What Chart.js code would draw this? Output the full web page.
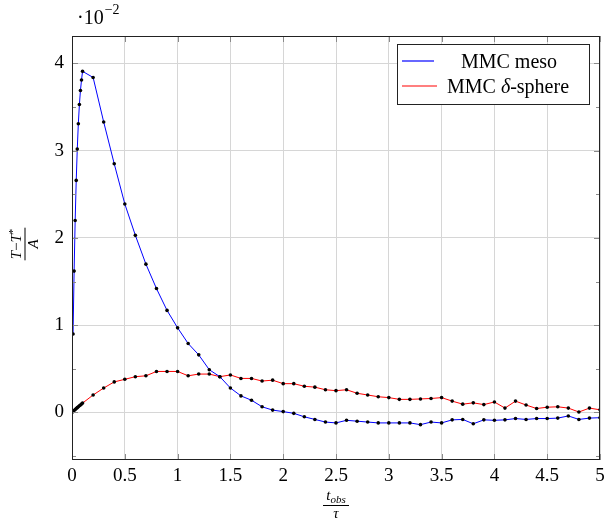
<!DOCTYPE html>
<html>
<head>
<meta charset="utf-8">
<script src="https://cdn.jsdelivr.net/npm/chart.js@4.4.1/dist/chart.umd.min.js"></script>
<style>
  html, body { margin: 0; padding: 0; background: #fff; }
  canvas { display: block; }
</style>
</head>
<body>
<canvas id="myChart" width="605" height="529"></canvas>
<script>
// data (y values in units of 10^-2)
const mesoX = [0.01, 0.02, 0.03, 0.04, 0.05, 0.06, 0.07, 0.08, 0.09, 0.1,
  0.2, 0.3, 0.4, 0.5, 0.6, 0.7, 0.8, 0.9, 1.0, 1.1, 1.2, 1.3, 1.4, 1.5, 1.6, 1.7, 1.8, 1.9, 2.0,
  2.1, 2.2, 2.3, 2.4, 2.5, 2.6, 2.7, 2.8, 2.9, 3.0, 3.1, 3.2, 3.3, 3.4, 3.5, 3.6, 3.7, 3.8, 3.9, 4.0,
  4.1, 4.2, 4.3, 4.4, 4.5, 4.6, 4.7, 4.8, 4.9, 5.0];
const mesoY = [0.90, 1.62, 2.20, 2.66, 3.02, 3.31, 3.53, 3.69, 3.81, 3.91,
  3.84, 3.33, 2.85, 2.39, 2.03, 1.70, 1.42, 1.17, 0.97, 0.79, 0.66, 0.49, 0.41, 0.28, 0.19, 0.14, 0.065, 0.027, 0.01,
  -0.01, -0.05, -0.08, -0.11, -0.12, -0.09, -0.10, -0.11, -0.12, -0.12, -0.12, -0.12, -0.14, -0.11, -0.12, -0.085, -0.08, -0.13, -0.085, -0.09,
  -0.085, -0.07, -0.08, -0.07, -0.07, -0.065, -0.04, -0.08, -0.065, -0.06];

const sphereX = [0, 0.01, 0.02, 0.03, 0.04, 0.05, 0.06, 0.07, 0.08, 0.09, 0.1,
  0.2, 0.3, 0.4, 0.5, 0.6, 0.7, 0.8, 0.9, 1.0, 1.1, 1.2, 1.3, 1.4, 1.5, 1.6, 1.7, 1.8, 1.9, 2.0,
  2.1, 2.2, 2.3, 2.4, 2.5, 2.6, 2.7, 2.8, 2.9, 3.0, 3.1, 3.2, 3.3, 3.4, 3.5, 3.6, 3.7, 3.8, 3.9, 4.0,
  4.1, 4.2, 4.3, 4.4, 4.5, 4.6, 4.7, 4.8, 4.9, 5.0];
const sphereY = [0, 0.012, 0.022, 0.033, 0.044, 0.055, 0.065, 0.076, 0.086, 0.096, 0.107,
  0.20, 0.28, 0.35, 0.38, 0.41, 0.42, 0.47, 0.47, 0.47, 0.42, 0.44, 0.44, 0.41, 0.43, 0.39, 0.39, 0.36, 0.37, 0.33,
  0.33, 0.30, 0.29, 0.26, 0.25, 0.26, 0.22, 0.20, 0.18, 0.17, 0.15, 0.15, 0.155, 0.16, 0.17, 0.13, 0.095, 0.11, 0.09, 0.12,
  0.05, 0.13, 0.085, 0.045, 0.06, 0.065, 0.05, 0.005, 0.05, 0.03];

const xTicks = [0, 0.5, 1, 1.5, 2, 2.5, 3, 3.5, 4, 4.5, 5];
const yTicks = [0, 1, 2, 3, 4];
const yMinorTicks = [-0.5, 0.5, 1.5, 2.5, 3.5];

const seriesColors = ['#0000ff', '#ff0000'];
const serif = '"Liberation Serif", "DejaVu Serif", serif';

function pts(xs, ys) {
  return xs.map((x, i) => ({ x: x, y: ys[i] }));
}

// draws pieces [text, fontPrefix, dy] one after another starting at x
function drawRun(ctx, pieces, x, y) {
  pieces.forEach(p => {
    ctx.font = p[1] + serif;
    ctx.fillText(p[0], x, y + (p[2] || 0));
    x += ctx.measureText(p[0]).width;
  });
  return x;
}
function runWidth(ctx, pieces) {
  let w = 0;
  pieces.forEach(p => { ctx.font = p[1] + serif; w += ctx.measureText(p[0]).width; });
  return w;
}

// axis box, inward tick marks, legend and the math labels
const decorations = {
  id: 'decorations',
  afterDatasetsDraw(chart) {
    const ctx = chart.ctx;
    const a = chart.chartArea;
    const sx = chart.scales.x, sy = chart.scales.y;
    ctx.save();

    // tick marks pointing inside
    ctx.strokeStyle = '#8a8a8a';
    ctx.lineWidth = 1;
    ctx.beginPath();
    xTicks.forEach(v => {
      const px = Math.round(sx.getPixelForValue(v)) + 0.5;
      ctx.moveTo(px, a.bottom); ctx.lineTo(px, a.bottom - 6);
      ctx.moveTo(px, a.top); ctx.lineTo(px, a.top + 6);
    });
    yTicks.forEach(v => {
      const py = Math.round(sy.getPixelForValue(v)) + 0.5;
      ctx.moveTo(a.left, py); ctx.lineTo(a.left + 6, py);
      ctx.moveTo(a.right, py); ctx.lineTo(a.right - 6, py);
    });
    yMinorTicks.forEach(v => {
      const py = Math.round(sy.getPixelForValue(v)) + 0.5;
      ctx.moveTo(a.left, py); ctx.lineTo(a.left + 4, py);
      ctx.moveTo(a.right, py); ctx.lineTo(a.right - 4, py);
    });
    ctx.stroke();

    // axis box
    ctx.strokeStyle = '#222';
    ctx.lineWidth = 1;
    ctx.strokeRect(Math.round(a.left) + 0.5, Math.round(a.top) + 0.5,
      Math.round(a.right - a.left) - 1, Math.round(a.bottom - a.top) - 1);

    // legend
    const lx = 397, ly = 44, lw = 192, lh = 60;
    ctx.fillStyle = '#fff';
    ctx.fillRect(lx, ly, lw, lh);
    ctx.strokeStyle = '#222';
    ctx.strokeRect(lx + 0.5, ly + 0.5, lw, lh);
    seriesColors.forEach((c, i) => {
      const yy = ly + 17 + i * 25;
      ctx.strokeStyle = c;
      ctx.lineWidth = 1.2;
      ctx.beginPath();
      ctx.moveTo(lx + 5, yy);
      ctx.lineTo(lx + (i === 0 ? 37 : 40), yy);
      ctx.stroke();
    });
    ctx.fillStyle = '#000';
    ctx.textBaseline = 'alphabetic';
    ctx.textAlign = 'left';
    const leg1 = [['MMC meso', '20px ']];
    drawRun(ctx, leg1, 509 - runWidth(ctx, leg1) / 2, 68);
    const leg2 = [['MMC ', '20px '], ['δ', 'italic 20px '], ['-sphere', '20px ']];
    drawRun(ctx, leg2, 508 - runWidth(ctx, leg2) / 2, 93);

    // ·10^-2 multiplier
    const ex = drawRun(ctx, [['\u00b710', '20px ']], 77, 24);
    drawRun(ctx, [['\u22122', '14px ']], ex + 1, 14);

    // x title: t_obs / tau
    const cx = (a.left + a.right) / 2;
    const num = [['t', 'italic 15px '], ['obs', 'italic 11px ', 3]];
    drawRun(ctx, num, cx - runWidth(ctx, num) / 2, 500);
    ctx.fillRect(cx - 13, 505, 26, 1);
    ctx.textAlign = 'center';
    ctx.font = 'italic 15px ' + serif;
    ctx.fillText('\u03c4', cx, 518);

    // y title: (T - T*) / A, rotated
    ctx.translate(25, (a.top + a.bottom) / 2 - 4);
    ctx.rotate(-Math.PI / 2);
    ctx.textAlign = 'left';
    const yn = [['T', 'italic 15px '], ['\u2212', '15px '], ['T', 'italic 15px '], ['*', '11px ', -5]];
    const tw = runWidth(ctx, yn);
    drawRun(ctx, yn, -tw / 2, -4);
    ctx.fillRect(-tw / 2 - 1, -0.5, tw + 2, 1);
    ctx.font = 'italic 15px ' + serif;
    ctx.textAlign = 'center';
    ctx.fillText('A', 0, 13);

    ctx.restore();
  }
};

document.addEventListener('DOMContentLoaded', function () {
  const ctx = document.getElementById('myChart').getContext('2d');

  new Chart(ctx, {
    type: 'line',
    data: {
      datasets: [
        {
          label: 'MMC meso',
          data: pts(mesoX, mesoY),
          borderColor: seriesColors[0],
          borderWidth: 1,
          pointRadius: 1.8,
          pointBackgroundColor: '#000',
          pointBorderWidth: 0,
          tension: 0
        },
        {
          label: 'MMC δ-sphere',
          data: pts(sphereX, sphereY),
          borderColor: seriesColors[1],
          borderWidth: 1,
          pointRadius: 1.8,
          pointBackgroundColor: '#000',
          pointBorderWidth: 0,
          tension: 0
        }
      ]
    },
    options: {
      responsive: false,
      animation: false,
      layout: { padding: { left: 0, top: 36, right: 5, bottom: 0 } },
      plugins: {
        legend: { display: false },
        tooltip: { enabled: false }
      },
      scales: {
        x: {
          type: 'linear',
          min: 0,
          max: 5,
          afterBuildTicks: axis => { axis.ticks = xTicks.map(v => ({ value: v })); },
          afterFit: scale => { scale.height = 69; scale.paddingLeft = 0; scale.paddingRight = 0; },
          grid: { color: '#d6d6d6', drawTicks: false },
          border: { display: false },
          ticks: {
            padding: 5,
            color: '#000',
            maxRotation: 0,
            font: { family: serif, size: 19 },
            callback: v => String(v)
          }
        },
        y: {
          type: 'linear',
          min: -0.545,
          max: 4.315,
          afterBuildTicks: axis => { axis.ticks = yTicks.map(v => ({ value: v })); },
          afterFit: scale => { scale.width = 72; scale.paddingTop = 0; scale.paddingBottom = 0; },
          grid: { color: '#d6d6d6', drawTicks: false },
          border: { display: false },
          ticks: {
            padding: 8,
            color: '#000',
            font: { family: serif, size: 19 },
            callback: v => String(v)
          }
        }
      }
    },
    plugins: [decorations]
  });
});
</script>
</body>
</html>
